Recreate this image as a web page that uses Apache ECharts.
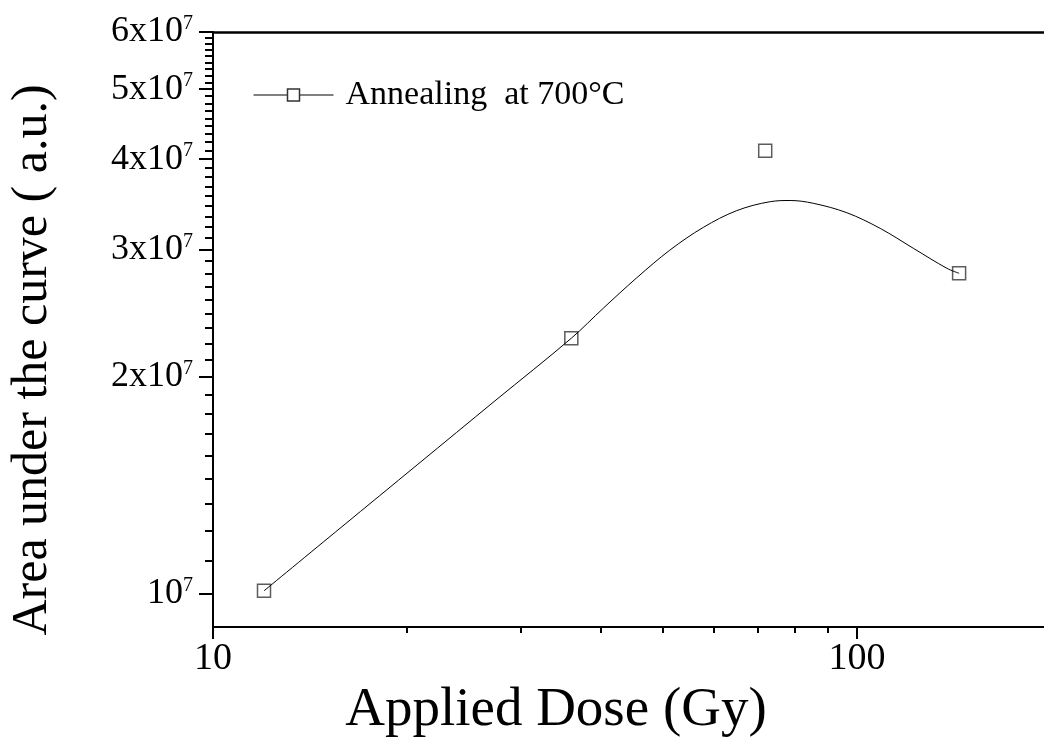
<!DOCTYPE html>
<html><head><meta charset="utf-8">
<script src="https://cdn.jsdelivr.net/npm/echarts@6/dist/echarts.min.js"></script>
<style>html,body{margin:0;padding:0;background:#fff}#c{width:1044px;height:744px}</style>
</head><body><div id="c"></div>
<script>
// ---- data ----
const seriesName = 'Annealing  at 700°C';
const doses = [12, 36, 72, 144];
const areas = [1.01e7, 2.26e7, 4.11e7, 2.78e7];
// fitted curve as drawn in the reference
const fitDose = [12, 15.8, 20.8, 27.4, 36, 40.4, 45.5, 51.2, 57.7, 65.0, 73.3, 78.7, 85.5, 96.4, 108.6, 122.3, 137.9, 144];
const fitArea = [1.01e7, 1.236e7, 1.512e7, 1.851e7, 2.26e7, 2.489e7, 2.741e7, 2.993e7, 3.218e7, 3.394e7, 3.493e7, 3.506e7, 3.475e7, 3.372e7, 3.208e7, 3.010e7, 2.824e7, 2.78e7];
// axes
const xMin = 10, xMax = 200, yMin = 9e6, yMax = 6e7;
const xMajorTicks = [10, 100];
const xMinorTicks = [20, 30, 40, 50, 60, 70, 80, 90, 200];
const yMajorTicks = [1e7, 2e7, 3e7, 4e7, 5e7, 6e7];
const yMinorTicks = [];
for (let k = 0; k < yMajorTicks.length - 1; k++) {
  for (let j = 1; j <= 8; j++) yMinorTicks.push(yMajorTicks[k] + j * 1e7 / 9);
}
const xTitle = 'Applied Dose (Gy)';
const yTitle = 'Area under the curve ( a.u.)';

const L = Math.log10;
const FONT = '"Liberation Serif", "Times New Roman", serif';
const BLACK = '#000';

function yLabel(v) {
  const raw = Math.pow(10, v);
  const e = Math.floor(L(raw) + 1e-9);
  const m = Math.round(raw / Math.pow(10, e));
  return (m === 1 ? '{b|10}' : '{b|' + m + 'x10}') + '{s|' + e + '}';
}

const chart = echarts.init(document.getElementById('c'), null, {renderer: 'canvas'});
const option = {
  animation: false,
  backgroundColor: '#fff',
  grid: {left: 213, top: 32, width: 838, height: 595, outerBoundsMode: 'none'},
  legend: {
    data: [seriesName], left: 253, top: 78, padding: 0,
    itemWidth: 80, itemHeight: 15, selectedMode: false,
    itemStyle: {color: '#fff', borderColor: '#333', borderWidth: 1.5},
    lineStyle: {color: BLACK, width: 1},
    textStyle: {fontFamily: FONT, fontSize: 34, color: BLACK, padding: [0, 0, 0, 7]}
  },
  xAxis: [
    {type: 'log', logBase: 10, min: xMin, max: xMax, position: 'top',
     axisLine: {show: true, onZero: false, lineStyle: {color: BLACK, width: 2.5}},
     axisTick: {show: false}, axisLabel: {show: false}, splitLine: {show: false}},
    {type: 'value', min: L(xMin), max: L(xMax), position: 'bottom',
     axisLine: {show: true, onZero: false, lineStyle: {color: BLACK, width: 2}},
     axisTick: {show: true, customValues: xMajorTicks.map(L), length: 12, lineStyle: {color: BLACK, width: 2}},
     axisLabel: {show: true, customValues: xMajorTicks.map(L), margin: 13,
       formatter: v => String(Math.round(Math.pow(10, v))),
       fontFamily: FONT, fontSize: 38, color: BLACK},
     splitLine: {show: false},
     name: xTitle, nameLocation: 'middle', nameGap: 56,
     nameTextStyle: {fontFamily: FONT, fontSize: 55, color: BLACK, padding: [0, 152, 0, 0]}},
    {type: 'value', min: L(xMin), max: L(xMax), position: 'bottom',
     axisLine: {show: false, onZero: false},
     axisTick: {show: true, customValues: xMinorTicks.map(L), length: 6, lineStyle: {color: BLACK, width: 2}},
     axisLabel: {show: false}, splitLine: {show: false}}
  ],
  yAxis: [
    {type: 'log', logBase: 10, min: yMin, max: yMax, show: false, splitLine: {show: false}},
    {type: 'value', min: L(yMin), max: L(yMax), position: 'left',
     axisLine: {show: true, onZero: false, lineStyle: {color: BLACK, width: 2}},
     axisTick: {show: true, customValues: yMajorTicks.map(L), length: 14, lineStyle: {color: BLACK, width: 2}},
     axisLabel: {show: true, customValues: yMajorTicks.map(L), margin: 20, formatter: yLabel,
       rich: {
         b: {fontFamily: FONT, fontSize: 36, color: BLACK, lineHeight: 36},
         s: {fontFamily: FONT, fontSize: 20, color: BLACK, verticalAlign: 'top', lineHeight: 36}
       }},
     splitLine: {show: false},
     name: yTitle, nameLocation: 'middle', nameGap: 155, nameRotate: 90,
     nameTextStyle: {fontFamily: FONT, fontSize: 50, color: BLACK, padding: [0, 61, 0, 0]}},
    {type: 'value', min: L(yMin), max: L(yMax), position: 'left',
     axisLine: {show: false, onZero: false},
     axisTick: {show: true, customValues: yMinorTicks.map(L), length: 8, lineStyle: {color: BLACK, width: 2}},
     axisLabel: {show: false}, splitLine: {show: false}}
  ],
  series: [
    {name: seriesName, type: 'line', xAxisIndex: 0, yAxisIndex: 0,
     data: fitDose.map((d, i) => [d, fitArea[i]]),
     smooth: 0.35, symbol: 'rect', showSymbol: false, silent: true,
     lineStyle: {color: BLACK, width: 1},
     itemStyle: {color: '#fff', borderColor: '#333', borderWidth: 1.5},
     emphasis: {disabled: true}},
    {name: seriesName, type: 'scatter', xAxisIndex: 0, yAxisIndex: 0,
     data: doses.map((d, i) => [d, areas[i]]),
     symbol: 'rect', symbolSize: 13, silent: true,
     itemStyle: {color: '#fff', borderColor: '#333', borderWidth: 1.5},
     emphasis: {disabled: true}}
  ]
};
chart.setOption(option);
</script></body></html>
